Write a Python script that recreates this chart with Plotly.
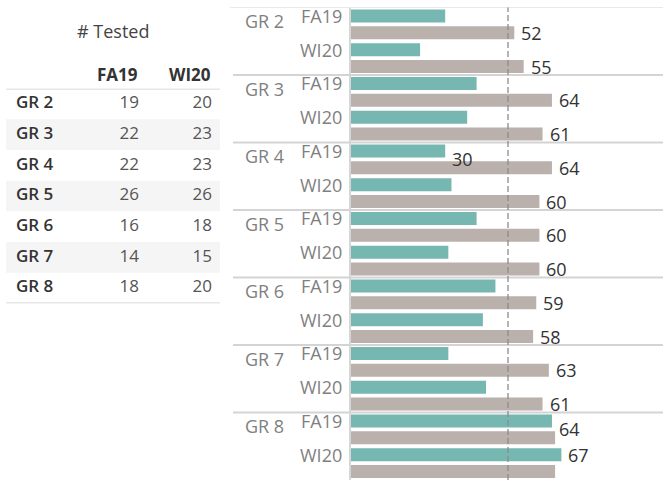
import plotly.graph_objects as go

# ---------------- data ----------------
groups = ["GR 2", "GR 3", "GR 4", "GR 5", "GR 6", "GR 7", "GR 8"]
terms = ["FA19", "WI20"]
tested_fa19 = [19, 22, 22, 26, 16, 14, 18]
tested_wi20 = [20, 23, 23, 26, 18, 15, 20]
# bar values per group, FA19 then WI20
school_fa19 = [30, 40, 30, 40, 46, 31, 64]
school_wi20 = [22, 37, 32, 31, 42, 43, 67]
bench_fa19 = [52, 64, 64, 60, 59, 63, 65]
bench_wi20 = [55, 61, 60, 60, 58, 61, 65]
reference_value = 50
table_title = "# Tested"

# which value labels are visible (Tableau hid overlapping ones), by row index
school_label_rows = [4, 12, 13]
bench_label_rows = list(range(12))

# ---------------- styling ----------------
FONT = "Open Sans, Noto Sans, sans-serif"
TEAL = "#76b7b2"
GREY = "#bab0ac"
W, H = 663, 480
ROW_TOP_PX = 7.5
school_label_dy = {4: 0.0, 12: 0.0}   # nudges of label rows (row units)

n_rows = len(groups) * len(terms)
rows = list(range(n_rows))
school = [v for pair in zip(school_fa19, school_wi20) for v in pair]
bench = [v for pair in zip(bench_fa19, bench_wi20) for v in pair]

fig = go.Figure()
fig.add_trace(go.Bar(y=rows, x=school, orientation="h", marker_color=TEAL,
                     marker_line_width=0, name="School", showlegend=False,
                     hoverinfo="x"))
fig.add_trace(go.Bar(y=rows, x=bench, orientation="h", marker_color=GREY,
                     marker_line_width=0, name="Benchmark", showlegend=False,
                     hoverinfo="x"))

annotations = []
# value labels
for r in rows:
    if r in bench_label_rows:
        annotations.append(dict(x=bench[r], y=r + 0.25, xref="x", yref="y",
                                text=str(bench[r]), showarrow=False,
                                xanchor="left", yanchor="middle", xshift=5,
                                font=dict(family=FONT, size=18, color="#333333")))
    if r in school_label_rows:
        dy = school_label_dy.get(r, -0.25)
        annotations.append(dict(x=school[r], y=r + dy, xref="x", yref="y",
                                text=str(school[r]), showarrow=False,
                                xanchor="left", yanchor="middle", xshift=5,
                                font=dict(family=FONT, size=18, color="#333333")))
# row headers
for g, name in enumerate(groups):
    annotations.append(dict(x=243 / W, y=2 * g, xref="paper", yref="y",
                            text=name, showarrow=False, xanchor="left",
                            yanchor="middle", yshift=3,
                            font=dict(family=FONT, size=18, color="#7f7f7f")))
    for t, term in enumerate(terms):
        annotations.append(dict(x=344 / W, y=2 * g + t - 0.25, xref="paper", yref="y",
                                text=term, showarrow=False, xanchor="right",
                                yanchor="middle",
                                font=dict(family=FONT, size=18, color="#7f7f7f")))

shapes = []
# group separators
for g in range(len(groups)):
    shapes.append(dict(type="line", xref="paper", yref="y",
                       x0=(230 if g == 0 else 233) / W, x1=1,
                       y0=2 * g - 0.5, y1=2 * g - 0.5,
                       line=dict(color="#d4d4d4", width=1 if g == 0 else 2)))
# reference line
shapes.append(dict(type="line", xref="x", yref="paper", x0=reference_value,
                   x1=reference_value, y0=0, y1=1 - ROW_TOP_PX / H,
                   line=dict(color="#8c8c8c", width=1.3, dash="6px,3px")))

# ---------------- table ----------------
TBL_LABEL_X, TBL_FA_X, TBL_WI_X = 16, 139, 212
n_g = len(groups)
for i in range(n_g):
    if i % 2 == 1:
        shapes.append(dict(type="rect", xref="x2", yref="y2", x0=6, x1=220,
                           y0=i - 0.5, y1=i + 0.5, fillcolor="#f5f5f5",
                           line_width=0, layer="below"))
for yy in (-0.5, n_g - 0.5):
    shapes.append(dict(type="line", xref="x2", yref="y2", x0=6, x1=220,
                       y0=yy, y1=yy, line=dict(color="#d0d0d0", width=1.5)))

fig.add_trace(go.Scatter(x=[TBL_LABEL_X] * n_g, y=list(range(n_g)), text=groups,
                         mode="text", textposition="middle right",
                         textfont=dict(family=FONT, size=17, color="#333333", weight=600),
                         xaxis="x2", yaxis="y2", showlegend=False, hoverinfo="skip"))
fig.add_trace(go.Scatter(x=[TBL_FA_X] * n_g, y=list(range(n_g)),
                         text=[str(v) for v in tested_fa19],
                         mode="text", textposition="middle left",
                         textfont=dict(family=FONT, size=17, color="#555555"),
                         xaxis="x2", yaxis="y2", showlegend=False, hoverinfo="skip"))
fig.add_trace(go.Scatter(x=[TBL_WI_X] * n_g, y=list(range(n_g)),
                         text=[str(v) for v in tested_wi20],
                         mode="text", textposition="middle left",
                         textfont=dict(family=FONT, size=17, color="#555555"),
                         xaxis="x2", yaxis="y2", showlegend=False, hoverinfo="skip"))

annotations.append(dict(x=113, y=1 - 31 / H, xref="x2", yref="paper",
                        text=table_title, showarrow=False,
                        xanchor="center", yanchor="middle",
                        font=dict(family=FONT, size=18, color="#444444")))
for cx, term in ((TBL_FA_X + 1, terms[0]), (TBL_WI_X + 1, terms[1])):
    annotations.append(dict(x=cx, y=1 - 74 / H, xref="x2", yref="paper",
                            text="<b>" + term + "</b>", showarrow=False,
                            xanchor="right", yanchor="middle",
                            font=dict(family=FONT, size=17, color="#333333")))

tbl_top, tbl_bot = 88.7, 303.3

fig.update_layout(
    width=W, height=H, autosize=False,
    margin=dict(l=0, r=0, t=0, b=0),
    paper_bgcolor="white", plot_bgcolor="rgba(0,0,0,0)",
    barmode="group", bargap=0, bargroupgap=0.23,
    font=dict(family=FONT),
    xaxis=dict(domain=[351 / W, 1], range=[0, (W - 351) / 3.14],
               showgrid=False, zeroline=False, showticklabels=False, ticks=""),
    yaxis=dict(domain=[0, 1 - ROW_TOP_PX / H], range=[n_rows - 0.5, -0.5],
               showgrid=False, zeroline=False, showticklabels=False, ticks="",
               showline=True, linecolor="#d6d6d6", linewidth=2),
    xaxis2=dict(domain=[0, 230 / W], range=[0, 230], visible=False),
    yaxis2=dict(domain=[1 - tbl_bot / H, 1 - tbl_top / H], range=[n_g - 0.5, -0.5],
                visible=False, anchor="x2"),
    annotations=annotations,
    shapes=shapes,
)

fig.write_html("out.html", config={"displayModeBar": False},
               post_script="document.body.style.margin='0';document.body.style.overflow='hidden';")
